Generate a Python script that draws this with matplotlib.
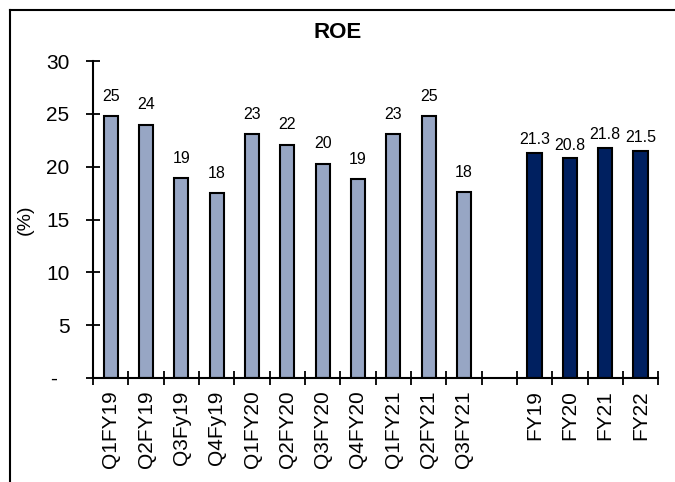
import numpy as np
import matplotlib
matplotlib.use("Agg")
import matplotlib.pyplot as plt
from matplotlib.lines import Line2D

plt.rcParams["font.family"] = ["Liberation Sans", "DejaVu Sans"]

# ── data ─────────────────────────────────────────────────────────────────────
quarters   = ["Q1FY19", "Q2FY19", "Q3Fy19", "Q4Fy19", "Q1FY20", "Q2FY20",
              "Q3FY20", "Q4FY20", "Q1FY21", "Q2FY21", "Q3FY21"]
q_roe      = [24.8, 24.0, 18.9, 17.5, 23.1, 22.1, 20.3, 18.8, 23.1, 24.8, 17.6]
q_labels   = ["25", "24", "19", "18", "23", "22", "20", "19", "23", "25", "18"]
years      = ["FY19", "FY20", "FY21", "FY22"]
fy_roe     = [21.3, 20.8, 21.8, 21.5]
yticks     = [0, 5, 10, 15, 20, 25, 30]
ytick_lbls = ["-  ", "5", "10", "15", "20", "25", "30"]

LIGHT = "#97a6c4"
DARK  = "#002060"

fig = plt.figure(figsize=(6.75, 4.82), dpi=100)
ax = fig.add_axes([0.138, 0.216, 0.837, 0.657])

q_x  = np.arange(len(quarters))
fy_x = np.arange(len(years)) + len(quarters) + 1

b1 = ax.bar(q_x, q_roe, width=0.4, color=LIGHT, edgecolor="black", linewidth=1.5)
b2 = ax.bar(fy_x, fy_roe, width=0.4, color=DARK, edgecolor="black", linewidth=1.5)
ax.bar_label(b1, labels=q_labels, padding=9, fontsize=11.5)
ax.bar_label(b2, fmt="%.1f", padding=4, fontsize=11.5)

n_slots = len(quarters) + 1 + len(years)
ax.set_xlim(-0.5, n_slots - 0.5)
ax.set_ylim(0, 30)

# tick marks at slot boundaries, labels at slot centres
ax.set_xticks(np.arange(-0.5, n_slots, 1.0))
ax.set_xticklabels([])
ax.set_xticks(list(q_x) + list(fy_x), minor=True)
ax.set_xticklabels(quarters + years, minor=True, rotation=90, fontsize=15)
ax.tick_params(axis="x", which="major", direction="inout", length=10, width=1.3)
ax.tick_params(axis="x", which="minor", length=0, pad=9)

ax.set_yticks(yticks)
ax.set_yticklabels(ytick_lbls, fontsize=15)
ax.tick_params(axis="y", direction="inout", length=10, width=1.3, pad=12)

for s in ["top", "right"]:
    ax.spines[s].set_visible(False)
for s in ["left", "bottom"]:
    ax.spines[s].set_linewidth(1.5)

ax.set_ylabel("(%)", fontsize=14)
ax.yaxis.set_label_coords(-0.105, 0.5)
fig.text(0.5, 0.933, "ROE", ha="center", va="center", fontsize=16, fontweight="bold")

# outer frame (cut off at the right and bottom in the source)
fig.add_artist(Line2D([0.0148, 1.0], [0.979, 0.979], color="black", lw=1.5))
fig.add_artist(Line2D([0.0148, 0.0148], [0.0, 0.979], color="black", lw=1.5))

fig.savefig("out.png", dpi=100)
